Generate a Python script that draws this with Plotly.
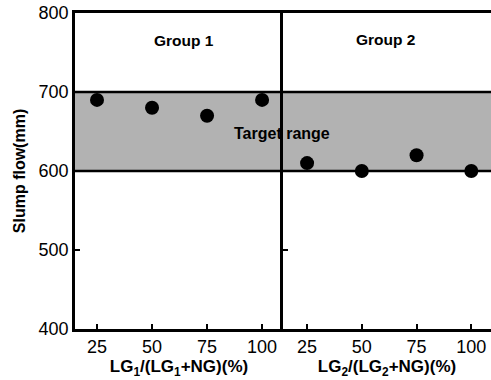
import plotly.graph_objects as go

# Data
x_labels = [25, 50, 75, 100]
group1_slump = [690, 680, 670, 690]
group2_slump = [610, 600, 620, 600]
y_ticks = [400, 500, 600, 700, 800]
target_low, target_high = 600, 700

FONT = "Liberation Sans, Arial, sans-serif"

fig = go.Figure()
fig.add_trace(go.Scatter(x=x_labels, y=group1_slump, mode="markers",
                         marker=dict(color="black", size=14), xaxis="x", yaxis="y",
                         showlegend=False))
fig.add_trace(go.Scatter(x=x_labels, y=group2_slump, mode="markers",
                         marker=dict(color="black", size=14), xaxis="x2", yaxis="y2",
                         showlegend=False))

# target band
fig.add_shape(type="rect", xref="paper", yref="y", x0=0, x1=1, y0=target_low, y1=target_high,
              fillcolor="#b2b2b2", line=dict(width=0), layer="below")
for yv in (target_low, target_high):
    fig.add_shape(type="line", xref="paper", yref="y", x0=0, x1=1, y0=yv, y1=yv,
                  line=dict(color="black", width=2.5))

axis_common = dict(showline=True, linecolor="black", linewidth=2.5, showgrid=False,
                   zeroline=False, ticks="inside", ticklen=5, tickwidth=2, tickcolor="black",
                   tickfont=dict(family=FONT, size=18, color="black"))

xtitle_font = dict(family=FONT, size=17, color="black", weight="bold")

fig.update_layout(
    width=491, height=380,
    margin=dict(l=75, r=0, t=13, b=51, pad=0),
    plot_bgcolor="white", paper_bgcolor="white",
    xaxis=dict(domain=[0, 0.5], range=[15, 109.5], tickvals=x_labels, mirror=True,
               title=dict(text="LG<sub>1</sub>/(LG<sub>1</sub>+NG)(%)", font=xtitle_font,
                          standoff=4),
               anchor="y", **axis_common),
    xaxis2=dict(domain=[0.5, 1.0], range=[14, 109], tickvals=x_labels, mirror=True,
                title=dict(text="LG<sub>2</sub>/(LG<sub>2</sub>+NG)(%)", font=xtitle_font,
                           standoff=4),
                anchor="y2", **axis_common),
    yaxis=dict(range=[400, 800], tickvals=y_ticks, anchor="x",
               title=dict(text="Slump flow(mm)",
                          font=dict(family=FONT, size=16, color="black", weight="bold"),
                          standoff=10),
               **axis_common),
    yaxis2=dict(range=[400, 800], tickvals=[500], showticklabels=False, anchor="x2",
                side="left", **axis_common),
)

fig.add_annotation(text="Group 1", xref="x", yref="y", x=64.5, y=765, showarrow=False,
                   font=dict(family=FONT, size=15.5, color="black", weight="bold"))
fig.add_annotation(text="Group 2", xref="x2", yref="y2", x=61, y=767, showarrow=False,
                   font=dict(family=FONT, size=15.5, color="black", weight="bold"))
fig.add_annotation(text="Target range", xref="paper", yref="y", x=0.497, y=648, showarrow=False,
                   font=dict(family=FONT, size=16, color="black", weight="bold"))

fig.write_html("out.html", config={"displayModeBar": False})
